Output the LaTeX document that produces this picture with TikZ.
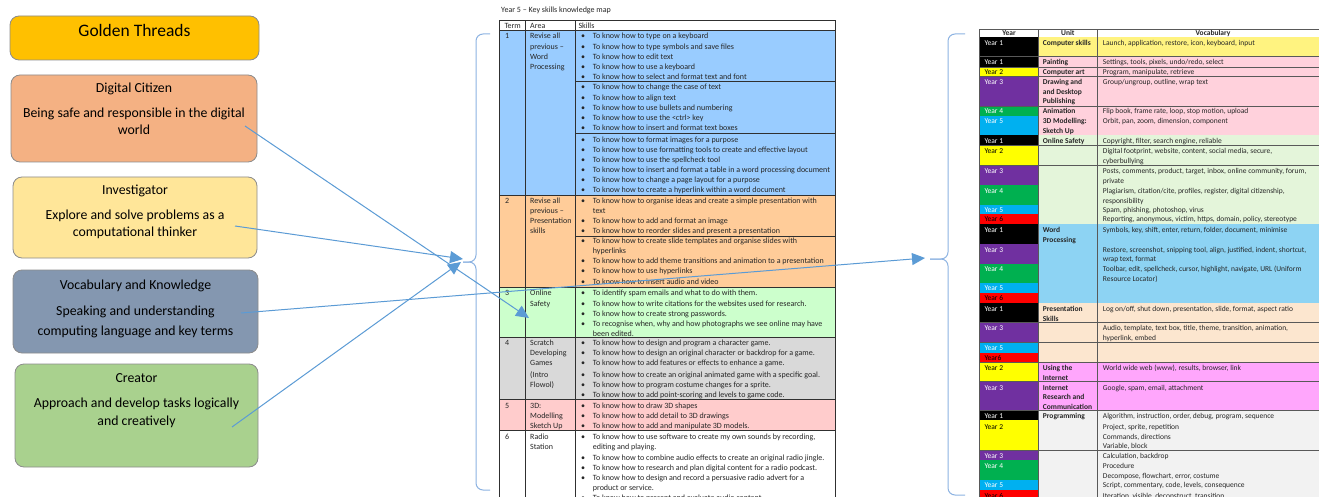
\documentclass[tikz,border=0pt]{standalone}
\usepackage{fontspec}
\setmainfont{Carlito}
\usetikzlibrary{arrows.meta}
\definecolor{arrowblue}{HTML}{5B9BD5}
\definecolor{bracecol}{HTML}{8DB3E2}
\definecolor{boxline}{HTML}{8C8C8C}
\definecolor{gold}{HTML}{FFC000}
\definecolor{salmon}{HTML}{F4B183}
\definecolor{lightyel}{HTML}{FFE699}
\definecolor{slate}{HTML}{8497B0}
\definecolor{lgreen}{HTML}{A9D18E}
\definecolor{tblue}{HTML}{99CCFF}
\definecolor{torange}{HTML}{FFCC99}
\definecolor{tgreen}{HTML}{CCFFCC}
\definecolor{tgray}{HTML}{D9D9D9}
\definecolor{tpink}{HTML}{FFCCCC}
\definecolor{ryel}{HTML}{FFF380}
\definecolor{rpink}{HTML}{FFD1DC}
\definecolor{rgreen}{HTML}{E4F5DA}
\definecolor{rblue}{HTML}{8DD3F3}
\definecolor{rpeach}{HTML}{FCE6CF}
\definecolor{rmag}{HTML}{FFA6FC}
\definecolor{rgray}{HTML}{F2F2F2}
\definecolor{yyellow}{HTML}{FFFF00}
\definecolor{ypurple}{HTML}{7030A0}
\definecolor{ygreen}{HTML}{00B050}
\definecolor{yblue}{HTML}{00B0F0}
\definecolor{yred}{HTML}{FF0000}
\definecolor{gridline}{HTML}{303030}
\newcount\tcnt
\newcommand\tl[3]{\global\advance\tcnt by 1\relax\node[mtxt] (t\the\tcnt) at (#1,#2) {#3};}
\newcommand\sk[2]{\tl{581}{#1}{\textbullet}\tl{592.7}{#1}{#2}}
\newcommand\skc[2]{\tl{592.7}{#1}{#2}}
\newcommand\rl[4][]{\global\advance\tcnt by 1\relax\node[rtxt,#1] (t\the\tcnt) at (#2,#3) {#4};}
\newcommand\ru[2]{\rl[font=\rfont\bfseries]{1042.7}{#1}{#2}}
\newcommand\rv[2]{\rl{1102.7}{#1}{#2}}
\newcommand\yr[7]{%
  \fill[#7] (1038.3,#1) rectangle (1330,#2);
  \fill[#3] (979.7,#1) rectangle (1038.3,#2);
  \draw[rgrid] (979.7,#2) -- (1330,#2);
  \rl[text=#4]{984.3}{#6}{#5}}
\newcommand\mfont{\fontsize{8}{9.5}\selectfont}
\newcommand\rfont{\fontsize{7.5}{9}\selectfont}
\tikzset{
  box/.style={draw=boxline, line width=0.8pt, rounded corners=9pt, inner sep=0pt},
  btitle/.style={font=\fontsize{13.8}{16}\selectfont, inner sep=0pt, anchor=mid},
  mtxt/.style={font=\mfont, inner sep=0pt, anchor=mid west, text=black!85},
  rtxt/.style={font=\rfont, inner sep=0pt, anchor=mid west, text=black!85},
  mgrid/.style={draw=gridline, line width=0.7pt},
  rgrid/.style={draw=gridline!80, line width=0.5pt},
  bracket/.style={draw=bracecol, line width=1pt, rounded corners=7pt},
  arr/.style={draw=arrowblue, line width=1pt, -{Triangle[length=13pt,width=12pt]}}
}
\begin{document}
\begin{tikzpicture}[x=1pt,y=-1pt]
\useasboundingbox (0,0) rectangle (1319,497);
\clip (0,0) rectangle (1319,497);
\fill[white] (0,0) rectangle (1319,497);

% ---------- left boxes ----------
\node[box, fill=gold, minimum width=249pt, minimum height=44pt] (gt) at (134.5,38) {};
\node[btitle, font=\fontsize{17.5}{20}\selectfont] (gtt) at (134.5,34) {Golden Threads};

\node[box, fill=salmon, minimum width=246pt, minimum height=87pt] (dc) at (134,118.5) {};
\node[btitle] (dct) at (134,90) {Digital Citizen};
\node[btitle] (dc1) at (134,115) {Being safe and responsible in the digital};
\node[btitle] (dc2) at (134,132) {world};

\node[box, fill=lightyel, minimum width=244pt, minimum height=81pt] (inv) at (135,217.5) {};
\node[btitle] (invt) at (135,192) {Investigator};
\node[btitle] (inv1) at (135,217) {Explore and solve problems as a};
\node[btitle] (inv2) at (135,234) {computational thinker};

\node[box, fill=slate, minimum width=245pt, minimum height=83pt] (voc) at (135.5,311.5) {};
\node[btitle] (voct) at (135.5,287) {Vocabulary and Knowledge};
\node[btitle] (voc1) at (135.5,313) {Speaking and understanding};
\node[btitle] (voc2) at (135.5,333) {computing language and key terms};

\node[box, fill=lgreen, minimum width=243pt, minimum height=103pt] (cre) at (136.5,415.5) {};
\node[btitle] (cret) at (136.5,380) {Creator};
\node[btitle] (cre1) at (136.5,405) {Approach and develop tasks logically};
\node[btitle] (cre2) at (136.5,423) {and creatively};

% ---------- middle table ----------
\node[mtxt] (mtitle) at (501,9.7) {Year 5 – Key skills knowledge map};
\fill[tblue] (499,30.7) rectangle (835.7,195.3);
\fill[torange] (499,195.3) rectangle (835.7,287.3);
\fill[tgreen] (499,287.3) rectangle (835.7,337.7);
\fill[tgray] (499,337.7) rectangle (835.7,399.3);
\fill[tpink] (499,399.3) rectangle (835.7,430.7);
\foreach \yy in {30.7,195.3,287.3,337.7,399.3,430.7}
  \draw[mgrid] (499,\yy) -- (835.7,\yy);
\foreach \yy in {81.7,133.7,236}
  \draw[mgrid] (575.7,\yy) -- (835.7,\yy);
\draw[mgrid] (499,20.7) rectangle (835.7,530);
\draw[mgrid] (525.7,20.7) -- (525.7,530);
\draw[mgrid] (575.7,20.7) -- (575.7,530);

\tl{504.3}{25.7}{Term}
\tl{530}{25.7}{Area}
\tl{578.3}{25.7}{Skills}

\tl{505}{36}{1}
\tl{530}{36}{Revise all}
\tl{530}{46.7}{previous –}
\tl{530}{56.7}{Word}
\tl{530}{67.3}{Processing}
\sk{36}{To know how to type on a keyboard}
\sk{46.7}{To know how to type symbols and save files}
\sk{56.7}{To know how to edit text}
\sk{67.3}{To know how to use a keyboard}
\sk{77.3}{To know how to select and format text and font}
\sk{87.3}{To know how to change the case of text}
\sk{97.7}{To know how to align text}
\sk{108}{To know how to use bullets and numbering}
\sk{118}{To know how to use the <ctrl> key}
\sk{128}{To know how to insert and format text boxes}
\sk{139.7}{To know how to format images for a purpose}
\sk{149.7}{To know how to use formatting tools to create and effective layout}
\sk{159.7}{To know how to use the spellcheck tool}
\sk{169.7}{To know how to insert and format a table in a word processing document}
\sk{180}{To know how to change a page layout for a purpose}
\sk{190.3}{To know how to create a hyperlink within a word document}

\tl{505}{201.3}{2}
\tl{530}{201.3}{Revise all}
\tl{530}{211}{previous –}
\tl{530}{221}{Presentation}
\tl{530}{231.3}{skills}
\sk{201.3}{To know how to organise ideas and create a simple presentation with}
\skc{211}{text}
\sk{221}{To know how to add and format an image}
\sk{231.3}{To know how to reorder slides and present a presentation}
\sk{241}{To know how to create slide templates and organise slides with}
\skc{251}{hyperlinks}
\sk{261.3}{To know how to add theme transitions and animation to a presentation}
\sk{271.3}{To know how to use hyperlinks}
\sk{282}{To know how to insert audio and video}

\tl{505}{293.3}{3}
\tl{530}{293.3}{Online}
\tl{530}{303.7}{Safety}
\sk{293.3}{To identify spam emails and what to do with them.}
\sk{303.7}{To know how to write citations for the websites used for research.}
\sk{313.7}{To know how to create strong passwords.}
\sk{324}{To recognise when, why and how photographs we see online may have}
\skc{334}{been edited.}

\tl{505}{343.3}{4}
\tl{530}{343.3}{Scratch}
\tl{530}{353.3}{Developing}
\tl{530}{363.3}{Games}
\tl{530}{375}{(Intro}
\tl{530}{385}{Flowol)}
\sk{343.3}{To know how to design and program a character game.}
\sk{353.3}{To know how to design an original character or backdrop for a game.}
\sk{363.3}{To know how to add features or effects to enhance a game.}
\sk{375}{To know how to create an original animated game with a specific goal.}
\sk{385}{To know how to program costume changes for a sprite.}
\sk{395}{To know how to add point-scoring and levels to game code.}

\tl{505}{406.3}{5}
\tl{530}{406.3}{3D:}
\tl{530}{416}{Modelling}
\tl{530}{426}{Sketch Up}
\sk{406.3}{To know how to draw 3D shapes}
\sk{416}{To know how to add detail to 3D drawings}
\sk{426}{To know how to add and manipulate 3D models.}

\tl{505}{437}{6}
\tl{530}{437}{Radio}
\tl{530}{447}{Station}
\sk{437}{To know how to use software to create my own sounds by recording,}
\skc{447}{editing and playing.}
\sk{457.7}{To know how to combine audio effects to create an original radio jingle.}
\sk{468}{To know how to research and plan digital content for a radio podcast.}
\sk{478.3}{To know how to design and record a persuasive radio advert for a}
\skc{488.3}{product or service.}
\sk{498}{To know how to present and evaluate audio content}

% ---------- right table ----------
\fill[white] (979.7,29.3) rectangle (1330,37.3);
\rl[font=\rfont\bfseries, anchor=mid]{1009}{33.3}{Year}
\rl[font=\rfont\bfseries, anchor=mid]{1067.8}{33.3}{Unit}
\rl[font=\rfont\bfseries, anchor=mid]{1213}{33.3}{Vocabulary}
\draw[rgrid] (979.7,37.3) -- (1330,37.3);

\yr{37.3}{56.7}{black}{white}{Year 1}{43.3}{ryel}
\yr{56.7}{67.7}{black}{white}{Year 1}{62.3}{rpink}
\yr{67.7}{76.7}{yyellow}{black}{Year 2}{72.3}{rpink}
\yr{76.7}{106.7}{ypurple}{white}{Year 3}{82.3}{rpink}
\yr{106.7}{116}{ygreen}{white}{Year 4}{111.3}{rpink}
\yr{116}{135}{yblue}{white}{Year 5}{121.3}{rpink}
\yr{135}{145.7}{black}{white}{Year 1}{141}{rgreen}
\yr{145.7}{165.7}{yyellow}{black}{Year 2}{151.3}{rgreen}
\yr{165.7}{185}{ypurple}{white}{Year 3}{171}{rgreen}
\yr{185}{205}{ygreen}{white}{Year 4}{190.7}{rgreen}
\yr{205}{214.3}{yblue}{white}{Year 5}{210}{rgreen}
\yr{214.3}{224.3}{yred}{black}{Year 6}{219.3}{rgreen}
\yr{224.3}{244.3}{black}{white}{Year 1}{229.7}{rblue}
\yr{244.3}{264}{ypurple}{white}{Year 3}{249.7}{rblue}
\yr{264}{283.3}{ygreen}{white}{Year 4}{269.3}{rblue}
\yr{283.3}{293.3}{yblue}{white}{Year 5}{288.3}{rblue}
\yr{293.3}{303.3}{yred}{black}{Year 6}{298.3}{rblue}
\yr{303.3}{322.7}{black}{white}{Year 1}{308.7}{rpeach}
\yr{322.7}{342.7}{ypurple}{white}{Year 3}{328.3}{rpeach}
\yr{342.7}{353.3}{yblue}{white}{Year 5}{348}{rpeach}
\yr{353.3}{362.7}{yred}{black}{Year6}{358}{rpeach}
\yr{362.7}{381.7}{yyellow}{black}{Year 2}{368.3}{rmag}
\yr{381.7}{410.7}{ypurple}{white}{Year 3}{387.7}{rmag}
\yr{410.7}{420}{black}{white}{Year 1}{416}{rgray}
\yr{420}{450.7}{yyellow}{black}{Year 2}{426.7}{rgray}
\yr{450.7}{460}{ypurple}{white}{Year 3}{455.7}{rgray}
\yr{460}{480}{ygreen}{white}{Year 4}{465.7}{rgray}
\yr{480}{490}{yblue}{white}{Year 5}{485.3}{rgray}
\yr{490}{510}{yred}{black}{Year 6}{495.7}{rgray}
\draw[rgrid] (979.7,29.3) rectangle (1330,510);
\draw[rgrid] (1038.3,29.3) -- (1038.3,510);
\draw[rgrid] (1097.3,29.3) -- (1097.3,510);

\ru{43.3}{Computer skills}
\ru{62.3}{Painting}
\ru{72.3}{Computer art}
\ru{82.3}{Drawing and}
\ru{92}{and Desktop}
\ru{101.3}{Publishing}
\ru{111.3}{Animation}
\ru{121.3}{3D Modelling:}
\ru{131.3}{Sketch Up}
\ru{141}{Online Safety}
\ru{229.7}{Word}
\ru{239.7}{Processing}
\ru{308.7}{Presentation}
\ru{318.7}{Skills}
\ru{368.3}{Using the}
\ru{378.3}{Internet}
\ru{387.7}{Internet}
\ru{397.3}{Research and}
\ru{406.7}{Communication}
\ru{416}{Programming}

\rv{43.3}{Launch, application, restore, icon, keyboard, input}
\rv{62.3}{Settings, tools, pixels, undo/redo, select}
\rv{72.3}{Program, manipulate, retrieve}
\rv{82.3}{Group/ungroup, outline, wrap text}
\rv{111.3}{Flip book, frame rate, loop, stop motion, upload}
\rv{121.3}{Orbit, pan, zoom, dimension, component}
\rv{141}{Copyright, filter, search engine, reliable}
\rv{151.3}{Digital footprint, website, content, social media, secure,}
\rv{161.3}{cyberbullying}
\rv{171}{Posts, comments, product, target, inbox, online community, forum,}
\rv{181}{private}
\rv{190.7}{Plagiarism, citation/cite, profiles, register, digital citizenship,}
\rv{200.7}{responsibility}
\rv{210}{Spam, phishing, photoshop, virus}
\rv{219.3}{Reporting, anonymous, victim, https, domain, policy, stereotype}
\rv{229.7}{Symbols, key, shift, enter, return, folder, document, minimise}
\rv{249.7}{Restore, screenshot, snipping tool, align, justified, indent, shortcut,}
\rv{259.3}{wrap text, format}
\rv{269.3}{Toolbar, edit, spellcheck, cursor, highlight, navigate, URL (Uniform}
\rv{279.3}{Resource Locator)}
\rv{308.7}{Log on/off, shut down, presentation, slide, format, aspect ratio}
\rv{328.3}{Audio, template, text box, title, theme, transition, animation,}
\rv{338.3}{hyperlink, embed}
\rv{368.3}{World wide web (www), results, browser, link}
\rv{387.7}{Google, spam, email, attachment}
\rv{416}{Algorithm, instruction, order, debug, program, sequence}
\rv{426.7}{Project, sprite, repetition}
\rv{436.7}{Commands, directions}
\rv{446.3}{Variable, block}
\rv{455.7}{Calculation, backdrop}
\rv{465.7}{Procedure}
\rv{475.7}{Decompose, flowchart, error, costume}
\rv{485.3}{Script, commentary, code, levels, consequence}
\rv{495.7}{Iteration, visible, deconstruct, transition}

% ---------- brackets ----------
\coordinate (mbTop) at (490,34);
\coordinate (mbTip) at (463,262);
\coordinate (mbBot) at (490,490);
\draw[bracket] (mbTop) -| (476,262) -- (mbTip);
\draw[bracket] (mbTip) -- (476,262) |- (mbBot);
\coordinate (rbTop) at (965,34);
\coordinate (rbTip) at (930,259);
\coordinate (rbBot) at (965,495);
\draw[bracket] (rbTop) -| (948,259) -- (rbTip);
\draw[bracket] (rbTip) -- (948,259) |- (rbBot);

% ---------- arrows ----------
\coordinate (dcS) at (245,126);
\coordinate (dcE) at (529,318);
\coordinate (invS) at (235,226);
\coordinate (invE) at (463,259);
\coordinate (vocS) at (241,313);
\coordinate (vocE) at (925,258);
\coordinate (creS) at (232,427);
\coordinate (creE) at (461,262);
\draw[arr] (dcS) -- (dcE);
\draw[arr] (invS) -- (invE);
\draw[arr] (vocS) -- (vocE);
\draw[arr] (creS) -- (creE);
\end{tikzpicture}
\end{document}
